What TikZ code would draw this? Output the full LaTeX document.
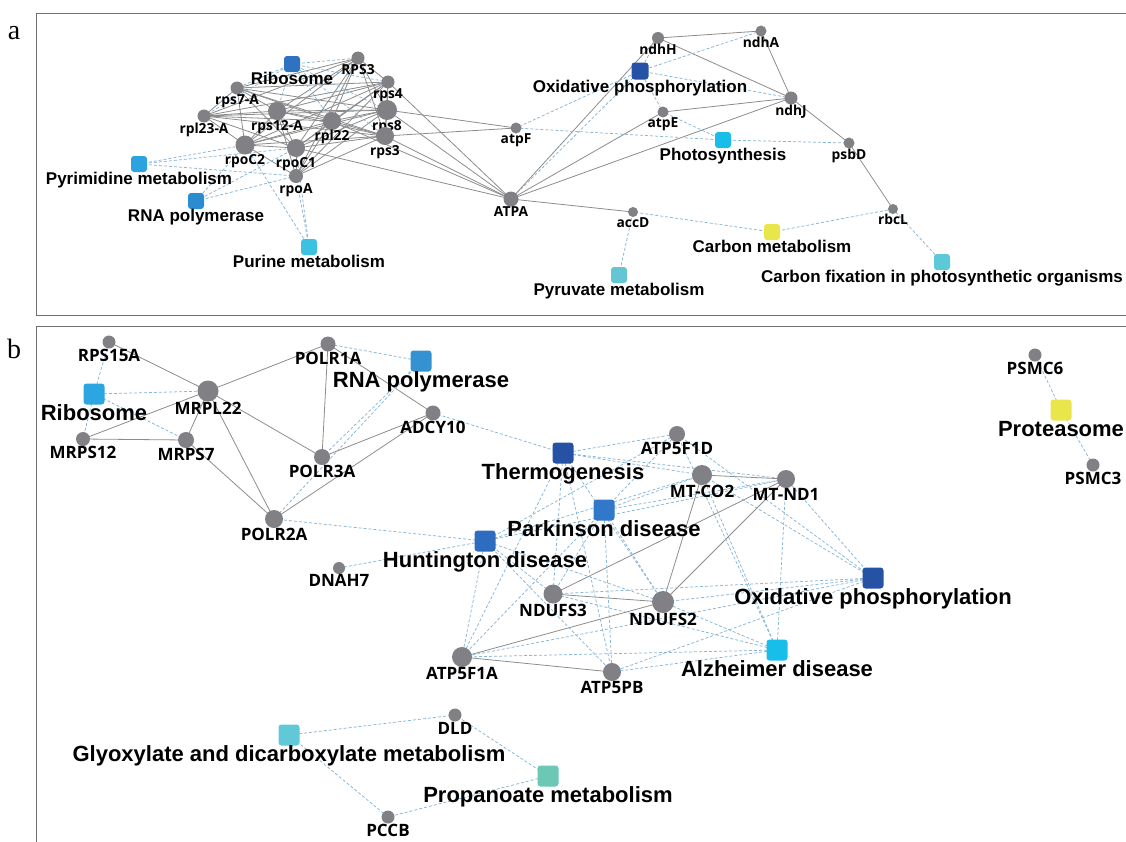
\documentclass[tikz,border=0pt]{standalone}
\usepackage{fontspec}
\setmainfont{Liberation Sans}
\newfontfamily\genefont{Open Sans}
\newfontfamily\pathfont{Liberation Sans}
\newfontfamily\letterfont{Liberation Serif}
\usetikzlibrary{backgrounds}
\definecolor{ngray}{HTML}{808085}
\definecolor{sline}{HTML}{8C8C8C}
\definecolor{dline}{HTML}{86B6D6}
\definecolor{boxc}{HTML}{707070}
\definecolor{cRiboA}{HTML}{3072C2}
\definecolor{cOx}{HTML}{2652A6}
\definecolor{cPyrim}{HTML}{2CA2DE}
\definecolor{cRNAa}{HTML}{2C8CD2}
\definecolor{cPurine}{HTML}{3CC2E0}
\definecolor{cPhoto}{HTML}{18BDE8}
\definecolor{cYellow}{HTML}{E8E64A}
\definecolor{cFix}{HTML}{5CC8D8}
\definecolor{cPyruv}{HTML}{64C6D2}
\definecolor{cRiboB}{HTML}{2CA6E0}
\definecolor{cRNAb}{HTML}{3492D2}
\definecolor{cPark}{HTML}{3278C8}
\definecolor{cHunt}{HTML}{2E6CC0}
\definecolor{cAlz}{HTML}{18BEEA}
\definecolor{cGly}{HTML}{60C8D6}
\definecolor{cProp}{HTML}{6AC8B4}
\tikzset{
  gn/.style={circle,fill=ngray,inner sep=0pt,minimum size=#1,label distance=1pt},
  pw/.style 2 args={rectangle,rounded corners=3pt,fill=#1,minimum size=#2,inner sep=0pt,label distance=3.5pt},
  glA/.style={font=\genefont\bfseries\fontsize{13.8}{14}\selectfont,inner sep=0pt,text=black},
  glB/.style={font=\genefont\bfseries\fontsize{17}{18}\selectfont,inner sep=0pt,text=black},
  plA/.style={font=\pathfont\bfseries\fontsize{17}{18}\selectfont,inner sep=0pt,text=black},
  plB/.style={font=\pathfont\bfseries\fontsize{22}{23}\selectfont,inner sep=0pt,text=black},
  sedge/.style={draw=sline,line width=0.8pt},
  dedge/.style={draw=dline,line width=0.75pt,dash pattern=on 3pt off 2pt},
  boxline/.style={draw=boxc,line width=1pt},
  panelletter/.style={font=\letterfont\fontsize{28}{30}\selectfont,inner sep=0pt}
}
\begin{document}
\begin{tikzpicture}[x=1pt,y=-1pt]
\useasboundingbox (0,0) rectangle (1126,841);
% panel frames
\draw[boxline] (1130,13) -- (36,13) -- (36,315) -- (1130,315);
\draw[boxline] (1130,326) -- (36,326) -- (36,845);
\node[panelletter] (la) at (14,33) {a};
\node[panelletter] (lb) at (14,349) {b};

% ---------------- panel a ----------------
\node[pw={cRiboA}{16}, label={[plA]below:Ribosome}] (pRiboA) at (292,64) {};
\node[gn=13, label={[glA]below:RPS3}] (RPS3) at (358,58) {};
\node[gn=13, label={[glA]below:rps4}] (rps4) at (388,82) {};
\node[gn=13, label={[glA]below:rps7-A}] (rps7A) at (237,88) {};
\node[gn=13, label={[glA]below:rpl23-A}] (rpl23A) at (204,116) {};
\node[gn=18, label={[glA]below:rps12-A}] (rps12A) at (277,111) {};
\node[gn=18, label={[glA]below:rpl22}] (rpl22) at (332,121) {};
\node[gn=20, label={[glA]below:rps8}] (rps8) at (387,110) {};
\node[gn=18, label={[glA]below:rps3}] (rps3) at (385,136) {};
\node[gn=19, label={[glA]below:rpoC2}] (rpoC2) at (245,145) {};
\node[gn=18, label={[glA]below:rpoC1}] (rpoC1) at (296,148) {};
\node[gn=14, label={[glA]below:rpoA}] (rpoA) at (296,176) {};
\node[pw={cPyrim}{16}, label={[plA]below:Pyrimidine metabolism}] (pPyrim) at (139,164) {};
\node[pw={cRNAa}{16}, label={[plA]below:RNA polymerase}] (pRNAa) at (196,201) {};
\node[pw={cPurine}{16}, label={[plA]below:Purine metabolism}] (pPurine) at (309,247) {};
\node[gn=12, label={[glA]below:ndhH}] (ndhH) at (658,38) {};
\node[gn=11, label={[glA]below:ndhA}] (ndhA) at (761,31) {};
\node[pw={cOx}{17}, label={[plA]below:Oxidative phosphorylation}] (pOxA) at (640,71) {};
\node[gn=13, label={[glA]below:ndhJ}] (ndhJ) at (791,98) {};
\node[gn=11, label={[glA]below:atpE}] (atpE) at (663,112) {};
\node[gn=11, label={[glA]below:atpF}] (atpF) at (516,128) {};
\node[pw={cPhoto}{16}, label={[plA]below:Photosynthesis}] (pPhoto) at (723,140) {};
\node[gn=11, label={[glA]below:psbD}] (psbD) at (849,143) {};
\node[gn=15, label={[glA]below:ATPA}] (ATPA) at (511,199) {};
\node[gn=10, label={[glA]below:accD}] (accD) at (633,212) {};
\node[pw={cYellow}{16}, label={[plA]below:Carbon metabolism}] (pCarbM) at (772,232) {};
\node[gn=10, label={[glA]below:rbcL}] (rbcL) at (893,209) {};
\node[pw={cFix}{16}, label={[plA]below:Carbon fixation in photosynthetic organisms}] (pCarbF) at (942,262) {};
\node[pw={cPyruv}{16}, label={[plA]below:Pyruvate metabolism}] (pPyruv) at (619,275) {};

% ---------------- panel b ----------------
\node[gn=13, label={[glB]below:RPS15A}] (RPS15A) at (109,342) {};
\node[pw={cRiboB}{21}, label={[plB]below:Ribosome}] (pRiboB) at (94,394) {};
\node[gn=21, label={[glB]below:MRPL22}] (MRPL22) at (208,391) {};
\node[gn=14, label={[glB]below:MRPS12}] (MRPS12) at (83,439) {};
\node[gn=16, label={[glB]below:MRPS7}] (MRPS7) at (186,440) {};
\node[gn=15, label={[glB]below:POLR1A}] (POLR1A) at (328,344) {};
\node[pw={cRNAb}{21}, label={[plB]below:RNA polymerase}] (pRNAb) at (421,361) {};
\node[gn=15, label={[glB]below:ADCY10}] (ADCY10) at (433,413) {};
\node[gn=16, label={[glB]below:POLR3A}] (POLR3A) at (322,457) {};
\node[gn=18, label={[glB]below:POLR2A}] (POLR2A) at (274,519) {};
\node[pw={cHunt}{21}, label={[plB]below:Huntington disease}] (pHunt) at (485,541) {};
\node[gn=12, label={[glB]below:DNAH7}] (DNAH7) at (339,568) {};
\node[pw={cOx}{21}, label={[plB]below:Thermogenesis}] (pThermo) at (563,453) {};
\node[gn=16, label={[glB]below:ATP5F1D}] (ATP5F1D) at (677,434) {};
\node[gn=20, label={[glB]below:MT-CO2}] (MTCO2) at (702,475) {};
\node[gn=18, label={[glB]below:MT-ND1}] (MTND1) at (786,479) {};
\node[pw={cPark}{21}, label={[plB]below:Parkinson disease}] (pPark) at (604,510) {};
\node[gn=19, label={[glB]below:NDUFS3}] (NDUFS3) at (553,594) {};
\node[gn=22, label={[glB]below:NDUFS2}] (NDUFS2) at (663,602) {};
\node[gn=20, label={[glB]below:ATP5F1A}] (ATP5F1A) at (462,657) {};
\node[gn=18, label={[glB]below:ATP5PB}] (ATP5PB) at (612,672) {};
\node[pw={cOx}{21}, label={[plB]below:Oxidative phosphorylation}] (pOxB) at (873,578) {};
\node[pw={cAlz}{21}, label={[plB]below:Alzheimer disease}] (pAlz) at (777,650) {};
\node[pw={cGly}{21}, label={[plB]below:Glyoxylate and dicarboxylate metabolism}] (pGly) at (289,735) {};
\node[gn=13, label={[glB]below:DLD}] (DLD) at (455,715) {};
\node[pw={cProp}{21}, label={[plB]below:Propanoate metabolism}] (pProp) at (548,776) {};
\node[gn=13, label={[glB]below:PCCB}] (PCCB) at (388,817) {};
\node[gn=13, label={[glB]below:PSMC6}] (PSMC6) at (1035,355) {};
\node[pw={cYellow}{21}, label={[plB]below:Proteasome}] (pProt) at (1061,410) {};
\node[gn=13, label={[glB]below:PSMC3}] (PSMC3) at (1093,465) {};

\begin{scope}[on background layer]
% panel a: ribosomal/rpo clique
\foreach \a/\rest in {RPS3/{rps4,rps7A,rpl23A,rps12A,rpl22,rps8,rps3,rpoC2,rpoC1,rpoA},
  rps4/{rps7A,rpl23A,rps12A,rpl22,rps8,rps3,rpoC2,rpoC1,rpoA},
  rps7A/{rpl23A,rps12A,rpl22,rps8,rps3,rpoC2,rpoC1},
  rpl23A/{rps12A,rpl22,rps8,rps3,rpoC2,rpoC1},
  rps12A/{rpl22,rps8,rps3,rpoC2,rpoC1,rpoA},
  rpl22/{rps8,rps3,rpoC2,rpoC1,rpoA},
  rps8/{rps3,rpoC2,rpoC1,rpoA},
  rps3/{rpoC2,rpoC1,rpoA},
  rpoC2/{rpoC1,rpoA},
  rpoC1/{rpoA}}
  {\foreach \b in \rest {\draw[sedge] (\a.center) -- (\b.center);}}
\foreach \a/\b in {ATPA/rps4,ATPA/rps8,ATPA/rps3,ATPA/rpl22,ATPA/rpoC1,ATPA/ndhH,ATPA/atpE,ATPA/ndhJ,ATPA/accD,
  atpF/rps8,atpF/rps3,ndhH/ndhA,ndhH/ndhJ,ndhA/ndhJ,atpE/ndhJ,ndhJ/psbD,psbD/rbcL}
  {\draw[sedge] (\a.center) -- (\b.center);}
\foreach \a/\b in {pRiboA/RPS3,pRiboA/rps4,pRiboA/rps7A,pRiboA/rpl23A,pRiboA/rps12A,pRiboA/rpl22,pRiboA/rps8,pRiboA/rps3,
  pPyrim/rpoC2,pPyrim/rpoC1,pPyrim/rpoA,pRNAa/rpoC2,pRNAa/rpoC1,pRNAa/rpoA,pPurine/rpoC2,pPurine/rpoC1,pPurine/rpoA,
  pOxA/ndhH,pOxA/ndhA,pOxA/ndhJ,pOxA/atpE,pOxA/atpF,pOxA/ATPA,pPhoto/atpF,pPhoto/atpE,pPhoto/psbD,
  pCarbM/accD,pCarbM/rbcL,pCarbF/rbcL,pPyruv/accD}
  {\draw[dedge] (\a.center) -- (\b.center);}
% panel b
\foreach \a/\b in {RPS15A/MRPL22,MRPL22/MRPS12,MRPL22/MRPS7,MRPS12/MRPS7,MRPL22/POLR1A,MRPL22/POLR3A,MRPL22/POLR2A,
  MRPS7/POLR2A,POLR1A/POLR3A,POLR1A/ADCY10,POLR3A/ADCY10,POLR2A/ADCY10,
  MTCO2/MTND1,MTCO2/NDUFS2,MTND1/NDUFS2,MTND1/NDUFS3,NDUFS3/NDUFS2,NDUFS2/ATP5F1A,ATP5F1A/ATP5PB}
  {\draw[sedge] (\a.center) -- (\b.center);}
\foreach \a/\b in {pRiboB/RPS15A,pRiboB/MRPL22,pRiboB/MRPS12,pRiboB/MRPS7,pRNAb/POLR1A,pRNAb/POLR3A,pRNAb/POLR2A,
  ADCY10/pThermo,POLR2A/pHunt,DNAH7/pHunt,pGly/DLD,pGly/PCCB,pProp/DLD,pProp/PCCB,pProt/PSMC6,pProt/PSMC3}
  {\draw[dedge] (\a.center) -- (\b.center);}
\foreach \p in {pThermo,pPark,pHunt,pOxB,pAlz}
  {\foreach \g in {ATP5F1D,MTCO2,MTND1,NDUFS3,NDUFS2,ATP5F1A,ATP5PB}
    {\draw[dedge] (\p.center) -- (\g.center);}}
\end{scope}
\end{tikzpicture}
\end{document}
